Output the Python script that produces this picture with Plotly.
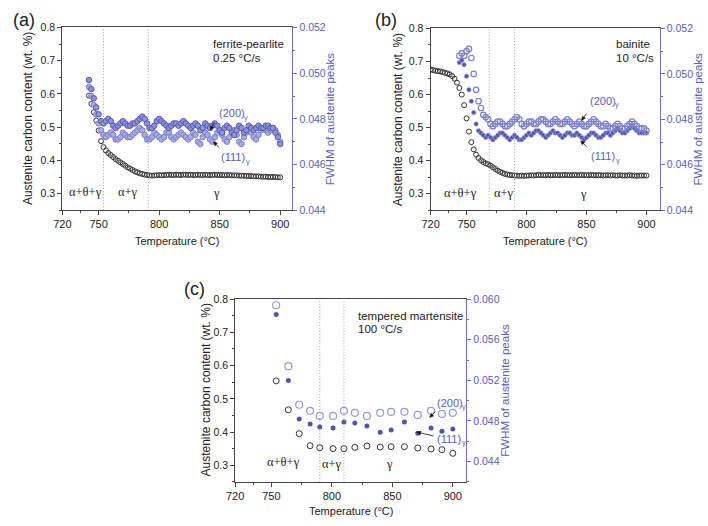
import math
import plotly.graph_objects as go

W, H = 708, 526

# ---------------- data ----------------
# (a) ferrite-pearlite, 0.25 °C/s
temp_a = list(range(742, 901, 2))
carbon_a = [0.595, 0.570, 0.545, 0.520, 0.490, 0.458, 0.440, 0.430, 0.422, 0.416,
            0.410, 0.404, 0.399, 0.394, 0.389, 0.384, 0.379, 0.375, 0.371, 0.367,
            0.364, 0.361, 0.359, 0.357, 0.356,
            0.355, 0.354, 0.355, 0.355, 0.356, 0.355, 0.356, 0.356, 0.357, 0.356,
            0.356, 0.357, 0.356, 0.356, 0.357, 0.357, 0.356, 0.357, 0.356, 0.356,
            0.357, 0.356, 0.356, 0.357, 0.356, 0.356, 0.356, 0.357, 0.356, 0.356,
            0.356, 0.355, 0.356, 0.356, 0.355,
            0.355, 0.355, 0.354, 0.354, 0.354, 0.353, 0.353, 0.353, 0.352, 0.352,
            0.352, 0.351, 0.351, 0.351, 0.350, 0.350, 0.350, 0.350, 0.349, 0.349]
fwhm200_a = [0.0497, 0.0493, 0.0489, 0.0485, 0.0482, 0.0479, 0.0478, 0.0479, 0.0480, 0.0479,
             0.0477, 0.0476, 0.0477, 0.0478, 0.0479, 0.0478, 0.0477, 0.0477, 0.0478, 0.0478,
             0.0479, 0.0480, 0.0481, 0.0480, 0.0478, 0.0476, 0.0476, 0.0477, 0.0479, 0.0480,
             0.0479, 0.0478, 0.0477, 0.0476, 0.0477, 0.0478, 0.0478, 0.0477, 0.0478, 0.0479,
             0.0478, 0.0477, 0.0476, 0.0477, 0.0478, 0.0477, 0.0475, 0.0476, 0.0478, 0.0477,
             0.0476, 0.0477, 0.0478, 0.0477, 0.0475, 0.0474, 0.0476, 0.0477, 0.0476, 0.0474,
             0.0473, 0.0475, 0.0477, 0.0476, 0.0474, 0.0475, 0.0477, 0.0476, 0.0475, 0.0476,
             0.0477, 0.0476, 0.0476, 0.0477, 0.0477, 0.0476, 0.0476, 0.0474, 0.0472, 0.0469]
fwhm111_a = [0.0494, 0.0490, 0.0486, 0.0482, 0.0478, 0.0475, 0.0473, 0.0472, 0.0473, 0.0474,
             0.0473, 0.0471, 0.0471, 0.0472, 0.0474, 0.0473, 0.0472, 0.0472, 0.0473, 0.0474,
             0.0475, 0.0476, 0.0475, 0.0473, 0.0471, 0.0471, 0.0472, 0.0474, 0.0473, 0.0472,
             0.0471, 0.0472, 0.0474, 0.0474, 0.0472, 0.0471, 0.0472, 0.0473, 0.0474, 0.0473,
             0.0472, 0.0471, 0.0472, 0.0474, 0.0473, 0.0470, 0.0469, 0.0472, 0.0474, 0.0473,
             0.0471, 0.0470, 0.0472, 0.0474, 0.0475, 0.0473, 0.0471, 0.0470, 0.0472, 0.0474,
             0.0475, 0.0473, 0.0470, 0.0469, 0.0472, 0.0474, 0.0475, 0.0474, 0.0472, 0.0471,
             0.0473, 0.0475, 0.0476, 0.0475, 0.0474, 0.0475, 0.0476, 0.0475, 0.0473, 0.0470]

# (b) bainite, 10 °C/s
temp_b_c = list(range(720, 901, 2))
carbon_b = [0.676, 0.674, 0.672, 0.671, 0.670, 0.668, 0.666, 0.664, 0.661, 0.656,
            0.648, 0.636, 0.620, 0.600, 0.568, 0.528, 0.488, 0.456, 0.434, 0.418,
            0.408, 0.401, 0.396, 0.392, 0.389, 0.385, 0.380, 0.375, 0.370, 0.366,
            0.363, 0.360, 0.358, 0.357, 0.356, 0.355, 0.355, 0.354, 0.355, 0.354,
            0.355, 0.355, 0.356, 0.355, 0.356, 0.357, 0.356, 0.356, 0.356, 0.357,
            0.356, 0.356, 0.357, 0.356, 0.356, 0.356, 0.357, 0.356, 0.356, 0.356,
            0.357, 0.356, 0.356, 0.357, 0.356, 0.356, 0.356, 0.357, 0.356, 0.356,
            0.356, 0.356, 0.355, 0.356, 0.356, 0.355, 0.356, 0.355, 0.355, 0.356,
            0.355, 0.355, 0.355, 0.356, 0.355, 0.355, 0.354, 0.355, 0.355, 0.355,
            0.355]
temp_b_f = list(range(744, 901, 2))
fwhm200_b = [0.0508, 0.0509, 0.0508, 0.0510, 0.0511, 0.0507, 0.0500, 0.0493, 0.0488, 0.0485,
             0.0482, 0.0481, 0.0480, 0.0478, 0.0477, 0.0478, 0.0479, 0.0479, 0.0478, 0.0477,
             0.0477, 0.0478, 0.0479, 0.0480, 0.0481, 0.0480, 0.0478, 0.0477, 0.0478, 0.0479,
             0.0479, 0.0478, 0.0478, 0.0479, 0.0480, 0.0480, 0.0479, 0.0478, 0.0478, 0.0479,
             0.0480, 0.0479, 0.0478, 0.0478, 0.0479, 0.0480, 0.0479, 0.0478, 0.0477, 0.0478,
             0.0479, 0.0478, 0.0477, 0.0477, 0.0478, 0.0479, 0.0480, 0.0479, 0.0478, 0.0477,
             0.0477, 0.0478, 0.0477, 0.0476, 0.0476, 0.0477, 0.0478, 0.0477, 0.0476, 0.0476,
             0.0477, 0.0478, 0.0479, 0.0478, 0.0477, 0.0476, 0.0476, 0.0476, 0.0475]
fwhm111_b = [0.0505, 0.0506, 0.0504, 0.0499, 0.0493, 0.0488, 0.0483, 0.0478, 0.0475, 0.0474,
             0.0473, 0.0472, 0.0473, 0.0472, 0.0471, 0.0472, 0.0473, 0.0474, 0.0474, 0.0473,
             0.0472, 0.0471, 0.0472, 0.0473, 0.0472, 0.0471, 0.0471, 0.0472, 0.0473, 0.0474,
             0.0473, 0.0474, 0.0475, 0.0475, 0.0474, 0.0473, 0.0472, 0.0473, 0.0474, 0.0475,
             0.0474, 0.0474, 0.0473, 0.0472, 0.0473, 0.0474, 0.0474, 0.0473, 0.0473, 0.0474,
             0.0473, 0.0472, 0.0471, 0.0472, 0.0473, 0.0474, 0.0474, 0.0473, 0.0472, 0.0472,
             0.0473, 0.0474, 0.0474, 0.0473, 0.0474, 0.0475, 0.0476, 0.0475, 0.0474, 0.0474,
             0.0475, 0.0476, 0.0477, 0.0476, 0.0475, 0.0474, 0.0474, 0.0474, 0.0474]

# (c) tempered martensite, 100 °C/s
temp_c = [754, 764, 773, 782, 790, 801, 810, 819, 829, 840, 849, 860, 871, 882, 891, 900]
carbon_c = [0.554, 0.467, 0.395, 0.359, 0.353, 0.350, 0.350, 0.354, 0.358, 0.355,
            0.356, 0.356, 0.352, 0.349, 0.347, 0.336]
fwhm200_c = [0.0594, 0.0534, 0.0496, 0.0490, 0.0485, 0.0485, 0.0490, 0.0488, 0.0485, 0.0488,
             0.0489, 0.0489, 0.0486, 0.0490, 0.0487, 0.0488]
fwhm111_c = [0.0585, 0.0520, 0.0482, 0.0477, 0.0474, 0.0473, 0.0479, 0.0478, 0.0475, 0.0469,
             0.0471, 0.0479, 0.0468, 0.0473, 0.0470, 0.0472]

x_ticks = [720, 750, 800, 850, 900]
x_minor = [735, 775, 825, 875]
carbon_ticks = [0.3, 0.4, 0.5, 0.6, 0.7, 0.8]
carbon_minor = [0.25, 0.35, 0.45, 0.55, 0.65, 0.75]
fwhm_ticks_ab = [0.044, 0.046, 0.048, 0.050, 0.052]
fwhm_minor_ab = [0.045, 0.047, 0.049, 0.051]
fwhm_ticks_c = [0.044, 0.048, 0.052, 0.056, 0.060]
fwhm_minor_c = [0.042, 0.046, 0.050, 0.054, 0.058]

# ---------------- style ----------------
FONT = "Liberation Sans, Arial, sans-serif"
SERIF = "Liberation Serif, Times New Roman, serif"
BLACK = "#222222"
BLUE_AX = "#6c72c2"
BLUE_TXT = "#5a60bd"
C200 = "#7b80cf"
C111 = "#4f54b2"

fig = go.Figure()


def px2p(x, y):
    return x / W, 1 - y / H


panels = [
    dict(xd=(54, 287), yd=(22, 209), xr=[720, 910], fr=[0.044, 0.052],
         ft=fwhm_ticks_ab, fm=fwhm_minor_ab),
    dict(xd=(427, 659), yd=(23, 209), xr=[720, 911], fr=[0.044, 0.052],
         ft=fwhm_ticks_ab, fm=fwhm_minor_ab),
    dict(xd=(229, 463), yd=(300, 487), xr=[720, 911], fr=[0.042, 0.060],
         ft=fwhm_ticks_c, fm=fwhm_minor_c),
]

layout = dict(width=W, height=H, margin=dict(l=0, r=0, t=0, b=0),
              paper_bgcolor="white", plot_bgcolor="white", showlegend=False,
              font=dict(family=FONT, size=10, color=BLACK))

for i, p in enumerate(panels):
    xi = i + 1
    yl = 2 * i + 1
    yr = 2 * i + 2
    xname = "xaxis" if xi == 1 else f"xaxis{xi}"
    ylname = "yaxis" if yl == 1 else f"yaxis{yl}"
    yrname = f"yaxis{yr}"
    xdom = [p["xd"][0] / W, p["xd"][1] / W]
    ydom = [1 - p["yd"][1] / H, 1 - p["yd"][0] / H]
    layout[xname] = dict(domain=xdom, anchor=f"y{'' if yl == 1 else yl}", range=p["xr"],
                         tickmode="array", tickvals=x_ticks, ticks="outside", ticklen=4,
                         tickcolor="#444", showline=True, linecolor="#444", linewidth=1,
                         mirror=True, showgrid=False, zeroline=False,
                         tickfont=dict(size=11, color=BLACK),
                         minor=dict(tickvals=x_minor, ticks="outside", ticklen=2, tickcolor="#444"))
    layout[ylname] = dict(domain=ydom, anchor=f"x{'' if xi == 1 else xi}", range=[0.25, 0.8],
                          tickmode="array", tickvals=carbon_ticks,
                          ticktext=[f"{v:.1f}" for v in carbon_ticks],
                          ticks="outside", ticklen=4, tickcolor="#444",
                          showline=True, linecolor="#444", linewidth=1, showgrid=False, zeroline=False,
                          tickfont=dict(size=10.5, color=BLACK),
                          minor=dict(tickvals=carbon_minor, ticks="outside", ticklen=2, tickcolor="#444"))
    layout[yrname] = dict(domain=ydom, anchor=f"x{'' if xi == 1 else xi}",
                          overlaying=f"y{'' if yl == 1 else yl}",
                          side="right", range=p["fr"], tickmode="array", tickvals=p["ft"],
                          ticktext=[f"{v:.3f}" for v in p["ft"]],
                          ticks="outside", ticklen=4, tickcolor=BLUE_AX,
                          showline=True, linecolor=BLUE_AX, linewidth=1, showgrid=False, zeroline=False,
                          tickfont=dict(size=10.5, color=BLUE_TXT),
                          minor=dict(tickvals=p["fm"], ticks="outside", ticklen=2, tickcolor=BLUE_AX))

fig.update_layout(**layout)

# panel (a): dense scans, both reflections drawn as bluish circles
fig.add_trace(go.Scatter(x=temp_a, y=carbon_a, mode="markers", xaxis="x", yaxis="y",
                         marker=dict(symbol="circle-open", size=5, color="#333333",
                                     line=dict(width=1))))
fig.add_trace(go.Scatter(x=temp_a, y=fwhm111_a, mode="markers", xaxis="x", yaxis="y2",
                         marker=dict(symbol="circle", size=5.5, color="#a9ace0",
                                     line=dict(width=1, color="#7a7fcc"))))
fig.add_trace(go.Scatter(x=temp_a, y=fwhm200_a, mode="markers", xaxis="x", yaxis="y2",
                         marker=dict(symbol="circle", size=5.5, color="#8f93d8",
                                     line=dict(width=1, color="#5358b6"))))

# panel (b)
fig.add_trace(go.Scatter(x=temp_b_c, y=carbon_b, mode="markers", xaxis="x2", yaxis="y3",
                         marker=dict(symbol="circle-open", size=5, color="#333333",
                                     line=dict(width=1))))
fig.add_trace(go.Scatter(x=temp_b_f, y=fwhm111_b, mode="markers", xaxis="x2", yaxis="y4",
                         marker=dict(symbol="circle", size=4.5, color=C111,
                                     line=dict(width=0.6, color="#a8abe0"))))
fig.add_trace(go.Scatter(x=temp_b_f, y=fwhm200_b, mode="markers", xaxis="x2", yaxis="y4",
                         marker=dict(symbol="circle-open", size=5.5, color=C200,
                                     line=dict(width=1.2))))

# panel (c)
fig.add_trace(go.Scatter(x=temp_c, y=carbon_c, mode="markers", xaxis="x3", yaxis="y5",
                         marker=dict(symbol="circle-open", size=6, color="#333333", line=dict(width=1))))
fig.add_trace(go.Scatter(x=temp_c, y=fwhm200_c, mode="markers", xaxis="x3", yaxis="y6",
                         marker=dict(symbol="circle-open", size=7, color="#9498d8", line=dict(width=1.2))))
fig.add_trace(go.Scatter(x=temp_c, y=fwhm111_c, mode="markers", xaxis="x3", yaxis="y6",
                         marker=dict(symbol="circle", size=5, color=C111)))

# dotted phase boundaries
shapes = []
for xref, yref, xs in [("x", "y domain", [754, 791]), ("x2", "y3 domain", [769, 790]),
                       ("x3", "y5 domain", [790, 810])]:
    for xv in xs:
        shapes.append(dict(type="line", xref=xref, yref=yref, x0=xv, x1=xv, y0=0, y1=1,
                           line=dict(color="#8a8a8a", width=0.8, dash="1px,2px")))


def arrow(hx, hy, tx, ty):
    dx, dy = hx - tx, hy - ty
    L = math.hypot(dx, dy)
    ux, uy = dx / L, dy / L
    nx, ny = -uy, ux
    hl, hw = 4.0, 1.8
    bx, by = hx - ux * hl, hy - uy * hl
    p0 = px2p(tx, ty)
    p1 = px2p(bx, by)
    shapes.append(dict(type="line", xref="paper", yref="paper", x0=p0[0], y0=p0[1],
                       x1=p1[0], y1=p1[1], line=dict(color="#111111", width=0.8)))
    a = px2p(hx, hy)
    b = px2p(bx + nx * hw, by + ny * hw)
    c = px2p(bx - nx * hw, by - ny * hw)
    shapes.append(dict(type="path", xref="paper", yref="paper",
                       path=f"M {a[0]} {a[1]} L {b[0]} {b[1]} L {c[0]} {c[1]} Z",
                       fillcolor="#111111", line=dict(color="#111111", width=0.5)))


arrow(204, 127, 208, 119)
arrow(207, 139, 213, 145)
arrow(580, 117, 585, 110)
arrow(579, 138, 585, 144)
arrow(426, 421, 432, 415)
arrow(413, 436, 430, 440)

fig.update_layout(shapes=shapes)

ann = []


def text(x, y, s, size=11, color=BLACK, family=FONT, xanchor="left", angle=0):
    px, py = px2p(x, y)
    ann.append(dict(x=px, y=py, xref="paper", yref="paper", text=s, showarrow=False,
                    xanchor=xanchor, yanchor="middle", textangle=angle,
                    font=dict(size=size, color=color, family=family)))


def peak_label(x, y, s):
    text(x, y, s, size=11, color=BLUE_TXT)
    text(x + 25.5, y + 4, "γ", size=7.5, color=BLUE_TXT)


# panel labels
text(2, 14, "(a)", size=18)
text(369, 14, "(b)", size=18)
text(175, 290, "(c)", size=18)

# axis titles
for cx, cy in [(170, 240), (543, 240), (346, 517)]:
    text(cx, cy, "Temperature (°C)", size=11, xanchor="center")
for lx, rx, cy in [(20, 326, 115), (394, 698, 116), (200, 502, 393)]:
    text(lx, cy, "Austenite carbon content (wt. %)", size=12, xanchor="center", angle=-90)
    text(rx, cy, "FWHM of austenite peaks", size=11.5, color=BLUE_TXT, xanchor="center", angle=-90)

# condition labels
text(205, 39, "ferrite-pearlite", size=11.5)
text(205, 53, "0.25 °C/s", size=11.5)
text(613, 39, "bainite", size=11.5)
text(613, 53, "10 °C/s", size=11.5)
text(351, 317, "tempered martensite", size=11.5)
text(351, 331, "100 °C/s", size=11.5)

# phase regions
for x, y, s in [(77, 190, "α+θ+γ"), (121, 190, "α+γ"), (210, 191, "γ"),
                (457, 191, "α+θ+γ"), (501, 191, "α+γ"), (582, 192, "γ"),
                (278, 467, "α+θ+γ"), (327, 469, "α+γ"), (385, 469, "γ")]:
    text(x, y, s, size=12.5, family=SERIF, xanchor="center")

# peak labels
peak_label(211, 110, "(200)")
peak_label(213, 155, "(111)")
peak_label(586, 97, "(200)")
peak_label(587, 154, "(111)")
peak_label(431, 406, "(200)")
peak_label(431, 443, "(111)")

fig.update_layout(annotations=ann)

fig.write_html("out.html")
